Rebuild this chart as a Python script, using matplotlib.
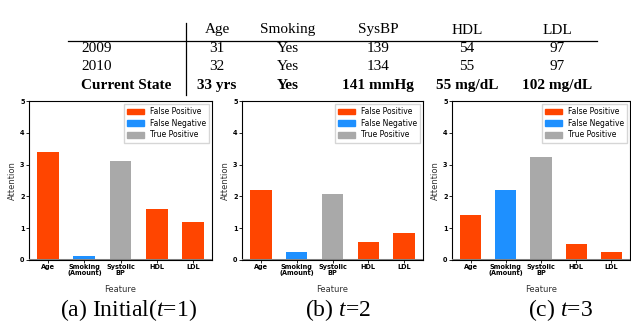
import matplotlib
matplotlib.use("Agg")
import matplotlib.pyplot as plt
from matplotlib.patches import Patch
from matplotlib.lines import Line2D

# ---- data ----
features = ["Age", "Smoking\n(Amount)", "Systolic\nBP", "HDL", "LDL"]
attn_t1 = [3.4, 0.12, 3.12, 1.6, 1.2]
attn_t2 = [2.2, 0.25, 2.08, 0.56, 0.85]
attn_t3 = [1.42, 2.2, 3.25, 0.5, 0.25]
bar_kind = ["False Positive", "False Negative", "True Positive", "False Positive", "False Positive"]
kinds = ["False Positive", "False Negative", "True Positive"]
kind_colors = {"False Positive": "#FF4500", "False Negative": "#1E90FF", "True Positive": "#A9A9A9"}
captions = ["(a) Initial($t$=1)", "(b) $t$=2", "(c) $t$=3"]

table_cols = ["Age", "Smoking", "SysBP", "HDL", "LDL"]
table_rows = ["2009", "2010", "Current State"]
table_vals = [["31", "Yes", "139", "54", "97"],
              ["32", "Yes", "134", "55", "97"],
              ["33 yrs", "Yes", "141 mmHg", "55 mg/dL", "102 mg/dL"]]

plt.rcParams['mathtext.fontset'] = 'custom'
plt.rcParams['mathtext.rm'] = 'Liberation Serif'
plt.rcParams['mathtext.it'] = 'Liberation Serif:italic'

W, H = 631, 322
fig = plt.figure(figsize=(W / 100, H / 100), dpi=100)

def fx(x):
    return x / W

def fy(y):
    return 1 - y / H

# ---- table ----
serif = "Liberation Serif"
col_x = [217, 288, 378, 467, 557]
row_y = [48, 67, 86]
for cx, c in zip(col_x, table_cols):
    fig.text(fx(cx), fy(30), c, ha="center", va="center", family=serif, fontsize=11)
for ri, (ry, rname) in enumerate(zip(row_y, table_rows)):
    weight = "bold" if ri == 2 else "normal"
    fig.text(fx(81), fy(ry), rname, ha="left", va="center", family=serif, fontsize=11, fontweight=weight)
    for cx, v in zip(col_x, table_vals[ri]):
        fig.text(fx(cx), fy(ry), v, ha="center", va="center", family=serif, fontsize=11, fontweight=weight)
fig.add_artist(Line2D([fx(68), fx(597)], [fy(41), fy(41)], color="black", lw=0.9, transform=fig.transFigure))
fig.add_artist(Line2D([fx(186), fx(186)], [fy(23), fy(95)], color="black", lw=0.9, transform=fig.transFigure))

# ---- bar panels ----
panels = [(29, 212), (242, 423), (452, 630)]
top, bottom = 101, 260
series = [attn_t1, attn_t2, attn_t3]
cap_x = [128, 338, 560]

for (l, r), vals, cap, cxp in zip(panels, series, captions, cap_x):
    ax = fig.add_axes([fx(l), fy(bottom), (r - l) / W, (bottom - top) / H])
    x = list(range(len(features)))
    colors = [kind_colors[k] for k in bar_kind]
    ax.bar(x, vals, width=0.6, color=colors, zorder=2)
    ax.set_ylim(0, 5)
    ax.set_yticks(range(6))
    ax.set_xticks(x)
    ax.set_xticklabels(features, fontsize=4.7, fontweight="bold", linespacing=1.0)
    ax.set_yticklabels([str(i) for i in range(6)], fontsize=4.7, fontweight="bold")
    ax.tick_params(axis="both", length=2, width=0.6, pad=1.2)
    ax.axhline(0, color="#808080", lw=2.2, zorder=3)
    for s in ax.spines.values():
        s.set_linewidth(0.8)
    ax.set_ylabel("Attention", fontsize=6, labelpad=2.5, color="#333333")
    ax.set_xlabel("Feature", fontsize=6, labelpad=6, color="#333333")
    handles = [Patch(color=kind_colors[k], label=k) for k in kinds]
    ax.legend(handles=handles, loc="upper right", fontsize=5.5, frameon=True,
              handlelength=2.2, handleheight=0.8, handletextpad=0.8,
              borderpad=0.4, labelspacing=0.35, borderaxespad=0.4,
              fancybox=False, edgecolor="#cccccc")
    fig.text(fx(cxp), fy(310), cap, ha="center", va="center", family=serif, fontsize=17)

fig.savefig("out.png", dpi=100)
